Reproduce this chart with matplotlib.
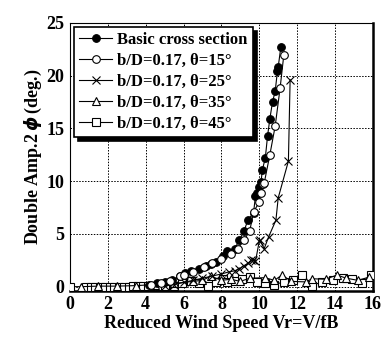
import numpy as np
from matplotlib import pyplot as plt

plt.rcParams['font.family'] = ['Liberation Serif', 'DejaVu Serif']
plt.rcParams['font.weight'] = 'bold'

# basic cross section (filled circles)
basic_x = [4.2, 4.6, 5.0, 5.4, 5.8, 6.1, 6.4, 6.8, 7.2, 7.45, 7.7, 8.07, 8.3, 8.7, 8.95,
           9.2, 9.4, 9.7, 9.8, 9.9, 10.0, 10.09, 10.17, 10.32, 10.44, 10.56, 10.7, 10.84,
           10.96, 11.0, 11.14]
basic_y = [0.2, 0.3, 0.4, 0.6, 1.0, 1.3, 1.5, 1.7, 2.0, 2.1, 2.3, 2.9, 3.4, 3.6, 4.4,
           5.3, 6.3, 7.0, 8.6, 8.9, 9.4, 9.9, 11.1, 12.2, 14.3, 15.9, 17.5, 18.5,
           20.4, 20.8, 22.7]

# theta = 15 (open circles)
t15_x = [4.3, 4.8, 5.3, 5.8, 6.0, 6.5, 7.1, 7.5, 8.0, 8.5, 8.86, 9.2, 9.5, 9.7, 10.0,
         10.1, 10.2, 10.26, 10.56, 10.84, 11.1, 11.3]
t15_y = [0.2, 0.3, 0.5, 1.0, 1.1, 1.4, 1.9, 2.2, 2.6, 3.1, 3.6, 4.4, 5.3, 7.1, 8.0,
         8.9, 9.7, 9.8, 12.5, 15.2, 18.8, 22.0]

# theta = 25 (crosses)
t25_x = [5.0, 5.5, 6.0, 6.5, 7.0, 7.5, 8.0, 8.4, 8.7, 8.95, 9.2, 9.4, 9.56, 9.65, 9.8,
         10.0, 10.05, 10.26, 10.49, 10.88, 11.0, 11.54, 11.63]
t25_y = [0.1, 0.2, 0.4, 0.6, 0.8, 1.0, 1.2, 1.4, 1.5, 1.7, 2.0, 2.2, 2.5, 2.5, 2.4,
         4.3, 4.4, 3.6, 4.7, 6.3, 8.4, 11.9, 19.6]

# theta = 35 (triangles)
t35_x = [0.6, 1.5, 2.5, 3.5, 4.5, 5.5, 6.5, 7.0, 7.45, 8.0, 8.5, 9.0, 9.5, 10.3, 10.8,
         11.2, 11.7, 12.45, 12.8, 13.5, 14.1, 14.6, 15.2, 15.8]
t35_y = [0.0, 0.05, 0.05, 0.1, 0.2, 0.3, 0.5, 0.6, 1.0, 0.6, 0.7, 0.5, 0.8, 0.85, 0.6,
         1.1, 0.5, 0.45, 0.75, 0.7, 1.1, 0.8, 0.6, 0.9]

# theta = 45 (squares)
t45_x = [0.0, 0.85, 1.1, 1.35, 1.6, 1.85, 2.1, 2.35, 2.6, 2.85, 3.1, 3.35, 3.6, 3.85,
         4.1, 4.4, 4.7, 5.0, 5.5, 5.9, 6.4, 6.8, 7.3, 7.7, 8.07, 8.3, 8.7, 9.1, 9.5,
         9.9, 10.3, 10.8, 11.3, 11.8, 12.25, 12.8, 13.3, 13.9, 14.4, 14.9, 15.4, 15.9]
t45_y = [0.0, 0.0, 0.0, 0.0, 0.0, 0.0, 0.0, 0.0, 0.0, 0.0, 0.0, 0.05, 0.05, 0.1,
         0.1, 0.1, 0.1, 0.1, 0.1, 0.3, 0.5, 0.3, 0.1, 0.45, 0.75, 0.45, 0.55, 0.75, 0.95,
         0.45, 0.35, 0.2, 0.45, 0.6, 1.1, 0.1, 0.45, 0.6, 0.85, 0.75, 0.35, 1.15]

fig = plt.figure(figsize=(3.84, 3.41), dpi=100)
ax = fig.add_axes([0.182, 0.147, 0.789, 0.786])

kw = dict(color='black', lw=0.8, markersize=5.5, markeredgewidth=0.8)
ax.plot(t45_x, t45_y, marker='s', mfc='white', label='b/D=0.17, θ=45°', zorder=3, **kw)
ax.plot(t35_x, t35_y, marker='^', mfc='white', label='b/D=0.17, θ=35°', zorder=3, **kw)
ax.plot(t25_x, t25_y, marker='x', label='b/D=0.17, θ=25°', zorder=4, **kw)
ax.plot(basic_x, basic_y, marker='o', mfc='black', label='Basic cross section', zorder=5, **kw)
ax.plot(t15_x, t15_y, marker='o', mfc='white', label='b/D=0.17, θ=15°', zorder=6, **kw)

ax.set_xlim(0, 16)
ax.set_ylim(-0.4, 25)
ax.set_xticks(range(0, 17, 2))
ax.set_yticks(range(0, 26, 5))
ax.tick_params(length=0, labelsize=13, pad=4)
for lab in ax.get_xticklabels() + ax.get_yticklabels():
    lab.set_fontweight('bold')
ax.grid(True, ls=(0, (1.5, 1.5)), color='black', lw=0.7)
for s in ['left', 'top']:
    ax.spines[s].set_linewidth(0.8)
for s in ['right', 'bottom']:
    ax.spines[s].set_linewidth(1.8)

ax.set_xlabel('Reduced Wind Speed Vr=V/fB', fontsize=13, fontweight='bold', labelpad=1)
ax.set_ylabel('Double Amp.2$\\,\\phi\\,$(deg.)', fontsize=13, fontweight='bold', labelpad=2)

h, l = ax.get_legend_handles_labels()
order = [3, 4, 2, 1, 0]
leg = ax.legend([h[i] for i in order], [l[i] for i in order], loc='upper left',
                frameon=True, fancybox=False,
                shadow={'color': 'black', 'alpha': 1, 'ox': 3, 'oy': -3},
                borderaxespad=0.25, handlelength=2.0, handletextpad=0.3,
                labelspacing=0.3, borderpad=0.3,
                prop={'weight': 'bold', 'size': 12})
leg.get_frame().set_edgecolor('black')
leg.get_frame().set_linewidth(1.2)
leg.set_zorder(10)

fig.savefig('out.png', dpi=100)
